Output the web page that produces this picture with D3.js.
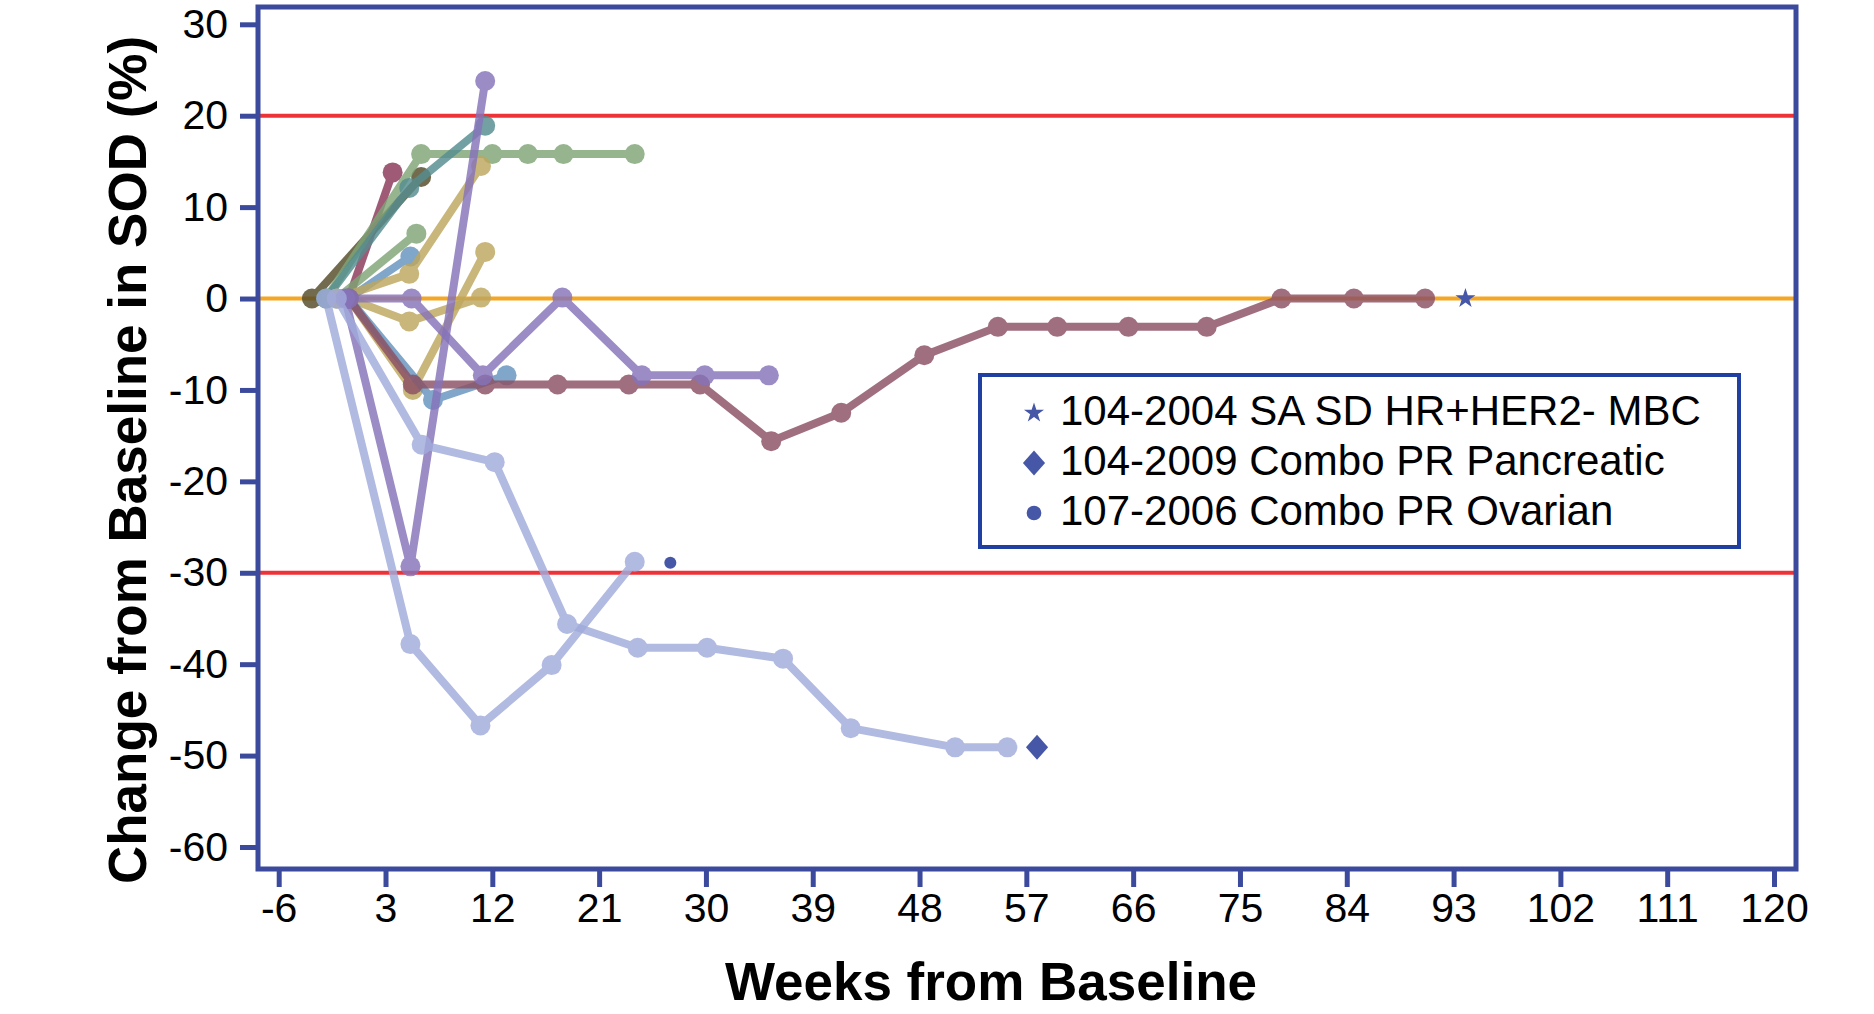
<!DOCTYPE html>
<html>
<head>
<meta charset="utf-8">
<script src="https://cdn.jsdelivr.net/npm/d3@7"></script>
<style>
  body { margin: 0; background: #fff; }
  svg { display: block; font-family: "Liberation Sans", Arial, sans-serif; }
</style>
</head>
<body>
<div id="chart"></div>
<script>
// ---- data ----
const xTicks = [-6, 3, 12, 21, 30, 39, 48, 57, 66, 75, 84, 93, 102, 111, 120];
const yTicks = [30, 20, 10, 0, -10, -20, -30, -40, -50, -60];
const refLines = [20, 0, -30];

const seriesWeeks = [
  [-3.2, 6.0],
  [-0.1, 3.6],
  [-2.0, 6.0, 12.0, 15.0, 18.0, 24.0],
  [-2.0, 5.0, 11.4],
  [-1.1, 5.6],
  [-0.1, 5.1],
  [-1.1, 5.0, 11.05],
  [-0.1, 5.3, 11.4],
  [-0.1, 5.0, 11.05],
  [-0.1, 7.0, 13.2],
  [-0.1, 5.3, 11.4, 17.5, 23.5, 29.5, 35.5, 41.4, 48.4, 54.6, 59.6, 65.6, 72.2, 78.5, 84.6, 90.6],
  [-0.1, 5.2, 11.2, 17.9, 24.6, 29.9, 35.3],
  [-0.4, 5.1, 11.4],
  [-2.0, 5.1, 11.0, 17.0, 24.0],
  [-1.1, 6.05, 12.2, 18.3, 24.25, 30.1, 36.5, 42.2, 51.0, 55.4]
];
const seriesValues = [
  [0, 13.3],
  [0, 13.8],
  [0, 15.8, 15.8, 15.8, 15.8, 15.8],
  [0, 12.1, 18.9],
  [0, 7.1],
  [0, 4.6],
  [0, 2.7, 14.5],
  [0, -10.0, 5.1],
  [0, -2.5, 0.1],
  [0, -11.1, -8.4],
  [0, -9.4, -9.4, -9.4, -9.4, -9.4, -15.6, -12.5, -6.2, -3.1, -3.1, -3.1, -3.1, 0, 0, 0],
  [0, 0, -8.4, 0.1, -8.4, -8.4, -8.4],
  [0, -29.3, 23.8],
  [0, -37.8, -46.7, -40.1, -28.8],
  [0, -16.0, -17.9, -35.6, -38.2, -38.2, -39.4, -47.0, -49.1, -49.1]
];
const seriesColors = ["#554b28", "#8a3757", "#7fa576", "#558d8f", "#7fa576", "#6593be",
  "#bea75e", "#bea75e", "#bea75e", "#6593be", "#8c5063", "#8673ba", "#8673ba", "#a1abdb", "#a1abdb"];

const legendLabels = ["104-2004 SA SD HR+HER2- MBC", "104-2009 Combo PR Pancreatic", "107-2006 Combo PR Ovarian"];
const legendSymbols = ["star", "diamond", "dot"];
const legendWeeks = [94.0, 57.9, 27.0];
const legendValues = [0, -49.1, -28.9];

// ---- layout ----
const W = 1874, H = 1014;
const frame = {left: 258, right: 1796, top: 7, bottom: 869};
const axisColor = "#3b4a9c";
const markColor = "#4557a6";

const svg = d3.select("#chart").append("svg")
  .attr("width", W)
  .attr("height", H);

let x = d3.scaleLinear().domain([-6, 120]).range([278.7, 1774]);
let y = d3.scaleLinear().domain([30, -60]).range([24.3, 847]);

// reference lines
svg.selectAll("line.ref")
  .data(refLines)
  .join("line")
  .attr("class", "ref")
  .attr("x1", frame.left)
  .attr("x2", frame.right)
  .attr("y1", d => y(d))
  .attr("y2", d => y(d))
  .attr("stroke", d => d === 0 ? "#f5a623" : "#ee3338")
  .attr("stroke-width", 4);

// series
let line = d3.line()
  .x(d => x(d[0]))
  .y(d => y(d[1]));

seriesWeeks.forEach((weeks, i) => {
  let pts = weeks.map((w, j) => [w, seriesValues[i][j]]);
  let g = svg.append("g").attr("opacity", 0.82);
  g.append("path")
    .datum(pts)
    .attr("d", line)
    .attr("fill", "none")
    .attr("stroke", seriesColors[i])
    .attr("stroke-width", 8)
    .attr("stroke-linejoin", "round");
  g.selectAll("circle")
    .data(pts)
    .join("circle")
    .attr("cx", d => x(d[0]))
    .attr("cy", d => y(d[1]))
    .attr("r", 10)
    .attr("fill", seriesColors[i]);
});

// frame
svg.append("rect")
  .attr("x", frame.left)
  .attr("y", frame.top)
  .attr("width", frame.right - frame.left)
  .attr("height", frame.bottom - frame.top)
  .attr("fill", "none")
  .attr("stroke", axisColor)
  .attr("stroke-width", 5);

// axes
let yAxis = svg.append("g")
  .attr("transform", `translate(${frame.left},0)`)
  .call(d3.axisLeft(y).tickValues(yTicks).tickSize(18).tickPadding(12).tickFormat(d => d.toString()));
let xAxis = svg.append("g")
  .attr("transform", `translate(0,${frame.bottom})`)
  .call(d3.axisBottom(x).tickValues(xTicks).tickSize(18).tickPadding(6).tickFormat(d => d.toString()));

[yAxis, xAxis].forEach(a => {
  a.select(".domain").remove();
  a.selectAll(".tick line").attr("stroke", axisColor).attr("stroke-width", 5);
  a.selectAll(".tick text")
    .attr("fill", "#000")
    .style("font-size", "41px")
    .style("font-family", '"Liberation Sans", Arial, sans-serif');
});

// axis titles
svg.append("text")
  .attr("transform", "translate(146,460) rotate(-90)")
  .attr("text-anchor", "middle")
  .style("font-size", "53px")
  .style("font-weight", "bold")
  .text("Change from Baseline in SOD (%)");

svg.append("text")
  .attr("x", 991)
  .attr("y", 1000)
  .attr("text-anchor", "middle")
  .style("font-size", "53px")
  .style("font-weight", "bold")
  .text("Weeks from Baseline");

// special markers
function symbolPath(kind, scale) {
  if (kind === "star") return d3.symbol().type(d3.symbolStar).size(125 * scale)();
  if (kind === "diamond") return d3.symbol().type(d3.symbolSquare).size(245 * scale)();
  return d3.symbol().type(d3.symbolCircle).size(170 * scale)();
}
function symbolTransform(kind, cx, cy) {
  if (kind === "diamond") return `translate(${cx},${cy}) scale(1,1.13) rotate(45)`;
  return `translate(${cx},${cy})`;
}

legendSymbols.forEach((s, i) => {
  svg.append("path")
    .attr("d", symbolPath(s, s === "dot" ? 0.67 : 1))
    .attr("transform", symbolTransform(s, x(legendWeeks[i]), y(legendValues[i])))
    .attr("fill", markColor);
});

// legend
let legend = svg.append("g");
legend.append("rect")
  .attr("x", 980)
  .attr("y", 375)
  .attr("width", 759)
  .attr("height", 172)
  .attr("fill", "#fff")
  .attr("stroke", "#1f40a0")
  .attr("stroke-width", 4);

legendLabels.forEach((lab, i) => {
  let base = 425 + i * 50;
  legend.append("path")
    .attr("d", symbolPath(legendSymbols[i], 1))
    .attr("transform", symbolTransform(legendSymbols[i], 1034, base - 12))
    .attr("fill", markColor);
  legend.append("text")
    .attr("x", 1060)
    .attr("y", base)
    .style("font-size", "42px")
    .text(lab);
});
</script>
</body>
</html>
